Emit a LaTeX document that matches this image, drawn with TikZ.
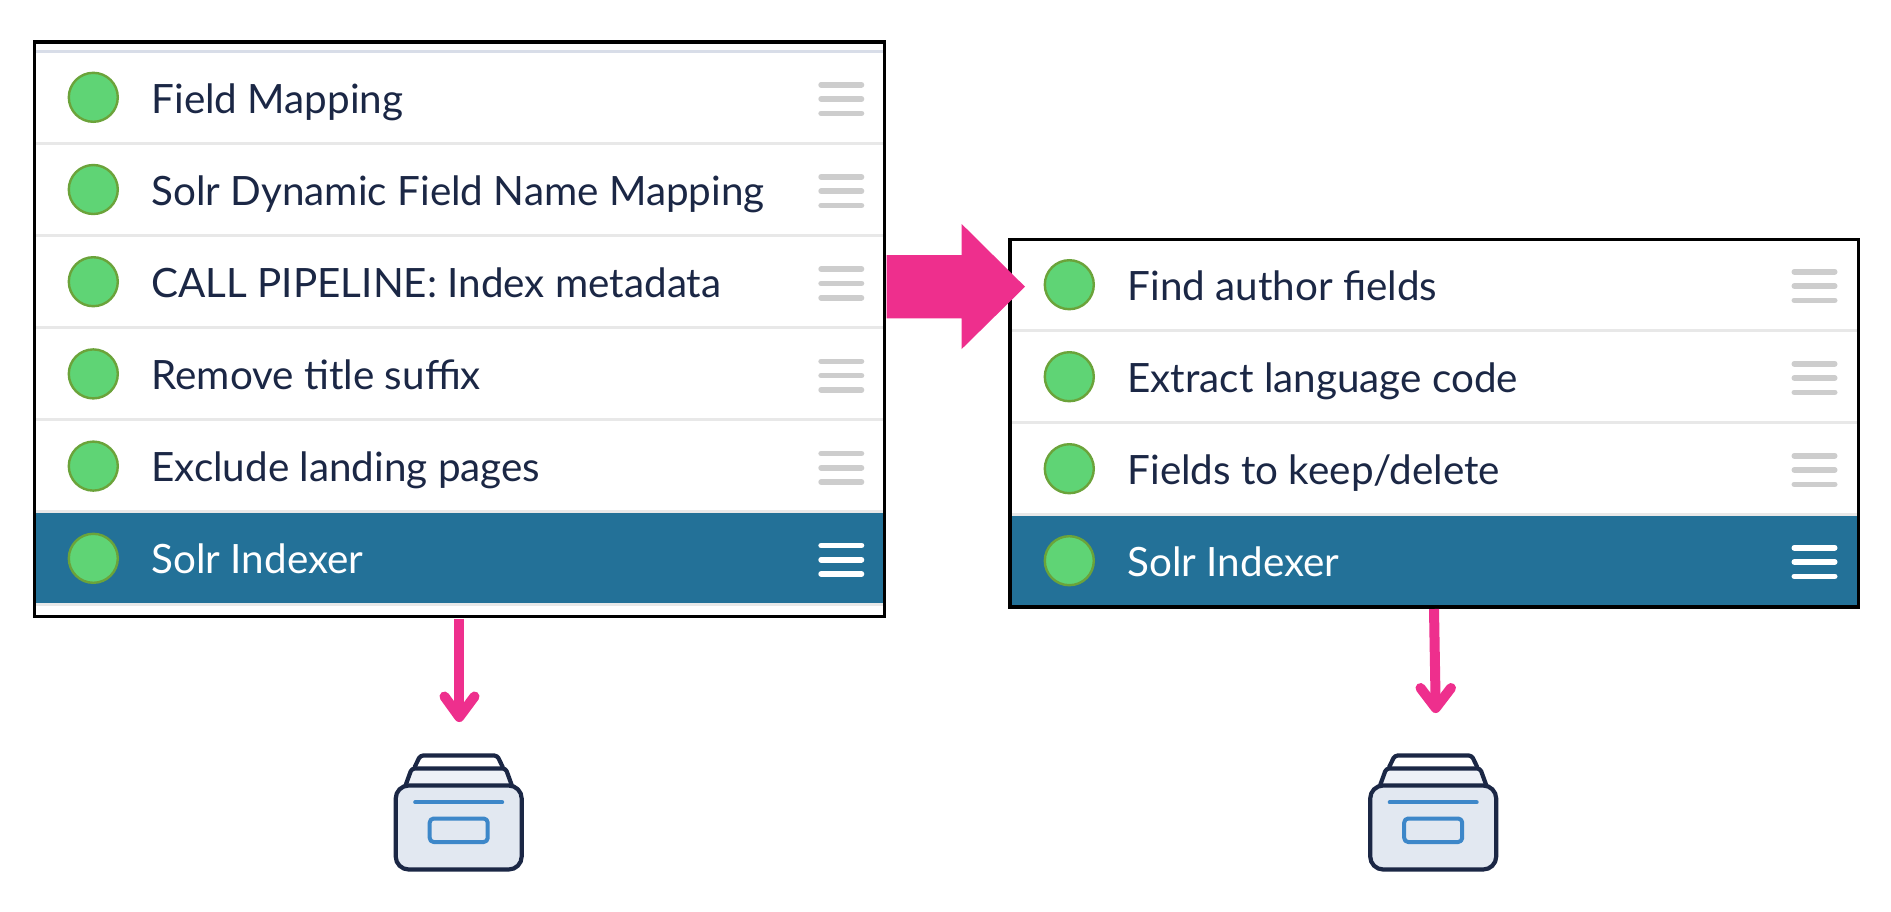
\documentclass[tikz,border=0pt]{standalone}
\usepackage{fontspec}
\setmainfont{Lato}
\definecolor{txt}{HTML}{1B2745}
\definecolor{sel}{HTML}{237198}
\definecolor{dot}{HTML}{5FD475}
\definecolor{dotedge}{HTML}{6BA33A}
\definecolor{pink}{HTML}{EE2F8D}
\definecolor{rule}{HTML}{E8E8E8}
\definecolor{toprule}{HTML}{D8DDE8}
\definecolor{hand}{HTML}{CDCDCD}
\definecolor{iconfill}{HTML}{E2E8F1}
\definecolor{iconedge}{HTML}{1B2745}
\definecolor{iconblue}{HTML}{3D87C9}
\tikzset{
  frame/.style={draw=black,line width=3.6,fill=none},
  status/.style={circle,draw=dotedge,fill=dot,line width=2.4,minimum size=49,inner sep=0},
  rowtext/.style={anchor=base west,inner sep=0,font=\fontsize{40.4}{41}\selectfont,text=txt},
  rowrule/.style={draw=rule,line width=3},
  gbar/.style={draw=hand,line width=5.6,line cap=round},
  wbar/.style={draw=white,line width=5.6,line cap=round},
  pinkline/.style={draw=pink,line width=10,line cap=round,line join=round},
  iconline/.style={draw=iconedge,line width=4.2,line join=round,line cap=round},
  iconb/.style={draw=iconblue,line width=4,line join=round,line cap=round}
}
\newcommand{\handle}[3]{% left x, mid y, style
  \draw[#3] (#1+2.8,#2-14.3) -- (#1+43.2,#2-14.3);
  \draw[#3] (#1+2.8,#2) -- (#1+43.2,#2);
  \draw[#3] (#1+2.8,#2+14.3) -- (#1+43.2,#2+14.3);
}
\newcommand{\archive}[1]{% centre x of the icon
  \begin{scope}[shift={(#1,0)}]
    \draw[iconline,fill=white,rounded corners=3] (-44,767) -- (-38.5,755.5) -- (38.5,755.5) -- (44,767);
    \draw[iconline,fill=iconfill!60,rounded corners=3] (-53,785) -- (-47,768.5) -- (47,768.5) -- (53,785);
    \draw[iconline,fill=iconfill,rounded corners=13] (-63,785.5) rectangle (63,869.5);
    \draw[iconb] (-43.5,802.3) -- (43.5,802.3);
    \draw[iconb,rounded corners=4] (-29,818.5) rectangle (29,842);
  \end{scope}
}
\begin{document}
\begin{tikzpicture}[x=1pt,y=-1pt]
\useasboundingbox (0,0) rectangle (1891,911);
\fill[white] (0,0) rectangle (1891,911);

% left panel
\fill[sel] (36,513) rectangle (883,602.7);
\fill[rule] (36,602.7) rectangle (883,606);
\draw[draw=toprule,line width=3] (36,51) -- (883,51);
\foreach \i in {1,...,4}{ \draw[rowrule] (36,51+92.2*\i) -- (883,51+92.2*\i); }
\draw[rowrule] (36,511.5) -- (883,511.5);
\node[status] (la) at (93.3,97.3) {};
\node[status] (lb) at (93.3,189.5) {};
\node[status] (lc) at (93.3,281.7) {};
\node[status] (ld) at (93.3,373.9) {};
\node[status] (le) at (93.3,466.1) {};
\node[status] (lf) at (93.3,558.3) {};
\node[rowtext] (lta) at (151.3,113) {Field Mapping};
\node[rowtext] (ltb) at (151.3,205.2) {Solr Dynamic Field Name Mapping};
\node[rowtext] (ltc) at (151.3,297.4) {CALL PIPELINE: Index metadata};
\node[rowtext] (ltd) at (151.3,389.6) {Remove title suffix};
\node[rowtext] (lte) at (151.3,481.8) {Exclude landing pages};
\node[rowtext,text=white] (ltf) at (151.3,573.5) {Solr Indexer};
\foreach \y in {99,191.2,283.4,375.6,467.8}{ \handle{818.3}{\y}{gbar} }
\handle{818.3}{559.7}{wbar}
\node[frame,rectangle,minimum width=850,minimum height=574.5,inner sep=0] (lbox) at (459.5,329.25) {};

% right panel
\fill[sel] (1011,516) rectangle (1857,605);
\foreach \y in {330.7,422.7,514.5}{ \draw[rowrule] (1011,\y) -- (1857,\y); }
\node[status] (ra) at (1069.3,284.7) {};
\node[status] (rb) at (1069.3,376.7) {};
\node[status] (rc) at (1069.3,468.7) {};
\node[status] (rd) at (1069.3,560.7) {};
\node[rowtext] (rta) at (1127.3,300.4) {Find author fields};
\node[rowtext] (rtb) at (1127.3,392.4) {Extract language code};
\node[rowtext] (rtc) at (1127.3,484.4) {Fields to keep/delete};
\node[rowtext,text=white] (rtd) at (1127.3,576.4) {Solr Indexer};
\foreach \y in {286,378,470}{ \handle{1791.5}{\y}{gbar} }
\handle{1791.5}{562}{wbar}
\node[frame,rectangle,minimum width=848.3,minimum height=367.5,inner sep=0] (rbox) at (1434.15,423.25) {};

% big arrow between the panels
\fill[pink] (886.7,255) -- (961.7,255) -- (961.7,224) -- (1025,286.7) -- (961.7,349) -- (961.7,318.3) -- (886.7,318.3) -- cycle;

% down arrows
\coordinate (ltip) at (459.3,717);
\coordinate (rtip) at (1435.7,708);
\draw[pinkline,line cap=butt] (459.3,618.5) -- (ltip);
\draw[pinkline] (444.5,696.5) -- (ltip) -- (474.5,696.5);
\draw[pinkline,line cap=butt] (1434,609) -- (rtip);
\draw[pinkline] (1420.5,688) -- (rtip) -- (1451,688);

\archive{458.7}
\archive{1433.2}
\end{tikzpicture}
\end{document}
